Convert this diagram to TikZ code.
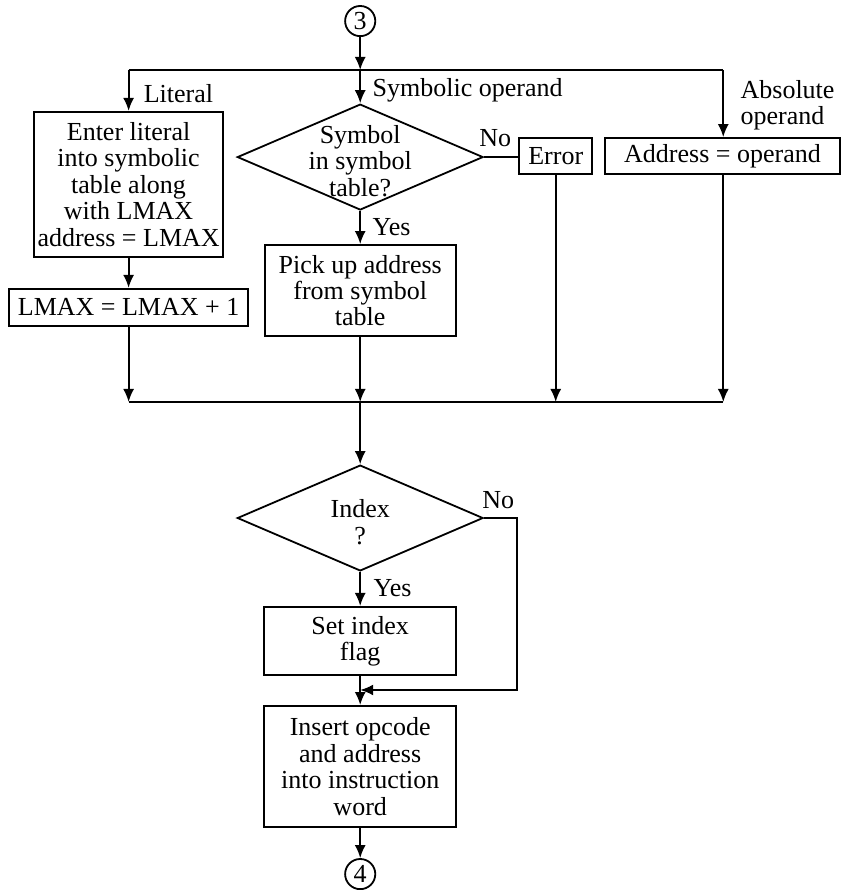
\documentclass[tikz,border=0pt]{standalone}
\usepackage{fontspec}
\setmainfont{Liberation Serif}
\usetikzlibrary{positioning,arrows.meta,shapes.geometric}
\tikzset{
  flowarrow/.style={-{Latex[length=6.5pt,width=5.5pt]}, line width=0.9pt},
  flowline/.style={line width=0.9pt},
  procbox/.style={draw, line width=0.9pt, inner sep=0pt, align=center},
  decision/.style={draw, diamond, line width=0.9pt, inner sep=0pt, minimum width=4.32cm, minimum height=1.86cm},
  connector/.style={draw, circle, line width=0.9pt, inner sep=0pt, minimum size=0.53cm},
  relabel/.style={inner sep=0pt, align=left}
}
\begin{document}
\begin{tikzpicture}[>=Latex, every node/.style={font=\fontsize{13}{13.2}\selectfont}]
  \useasboundingbox (-6.33,0) rectangle (8.47,-15.64);
  % boxes and decisions
  \node[connector] (c3) at (0,-0.37) {3};
  \node[procbox, minimum width=3.32cm, minimum height=2.55cm] (lit) at (-4.07,-3.24) {Enter literal\\into symbolic\\table along\\with LMAX\\address = LMAX};
  \node[procbox, minimum width=4.2cm, minimum height=0.65cm] (lmax) at (-4.07,-5.40) {LMAX = LMAX + 1};
  \node[decision, label={[align=center, yshift=-2pt]center:{Symbol\\in symbol\\table?}}] (sym) at (0,-2.76) {};
  \node[procbox, minimum width=1.28cm, minimum height=0.63cm] (err) at (3.436,-2.74) {Error};
  \node[procbox, minimum width=4.13cm, minimum height=0.63cm] (addr) at (6.367,-2.74) {Address = operand};
  \node[procbox, minimum width=3.36cm, minimum height=1.6cm] (pick) at (0,-5.105) {Pick up address\\from symbol\\table};
  \node[decision, label={[align=center, yshift=-2pt]center:{Index\\?}}] (idx) at (0,-9.103) {};
  \node[procbox, minimum width=3.37cm, minimum height=1.2cm] (setidx) at (0,-11.264) {Set index\\flag};
  \node[procbox, minimum width=3.37cm, minimum height=2.13cm] (ins) at (0,-13.47) {Insert opcode\\and address\\into instruction\\word};
  \node[connector] (c4) at (0,-15.36) {4};
  % branch and merge points
  \coordinate (j1) at (0,-1.23);
  \coordinate (brL) at (-4.07,-1.23);
  \coordinate (brR) at (6.38,-1.23);
  \coordinate (m0) at (0,-7.064);
  \coordinate (mR) at (6.38,-7.064);
  \coordinate (idxno) at (2.76,-12.125);
  \coordinate (nxt) at (0,-12.125);
  % connectors
  \draw[flowarrow] (c3) -- (j1);
  \draw[flowline] (brL) -- (brR);
  \draw[flowarrow] (brL) -- (lit);
  \draw[flowarrow] (j1) -- (sym);
  \draw[flowarrow] (brR) -- (brR |- addr.north);
  \draw[flowarrow] (lit) -- (lmax);
  \draw[flowline] (sym.east) -- (sym.east -| err.west);
  \draw[flowarrow] (sym) -- (pick);
  \draw[flowline] (m0 -| lmax) -- (mR);
  \draw[flowarrow] (lmax) -- (lmax |- m0);
  \draw[flowarrow] (pick) -- (m0);
  \draw[flowarrow] (err) -- (err |- m0);
  \draw[flowarrow] (addr.south -| mR) -- (mR);
  \draw[flowarrow] (m0) -- (idx);
  \draw[flowarrow] (idx) -- (setidx);
  \draw[flowarrow] (idx.east) -| (idxno) -- (nxt);
  \draw[flowarrow] (setidx) -- (ins);
  \draw[flowarrow] (ins) -- (c4);
  % branch labels
  \node[relabel, anchor=west] (llit) at (-3.81,-1.65) {Literal};
  \node[relabel, anchor=west] (lsym) at (0.211,-1.582) {Symbolic operand};
  \node[relabel, anchor=west] (labs) at (6.678,-1.845) {Absolute\\operand};
  \node[relabel] (lno1) at (2.372,-2.425) {No};
  \node[relabel, anchor=west] (lyes1) at (0.211,-3.989) {Yes};
  \node[relabel] (lno2) at (2.425,-8.787) {No};
  \node[relabel, anchor=west] (lyes2) at (0.228,-10.333) {Yes};
\end{tikzpicture}
\end{document}
